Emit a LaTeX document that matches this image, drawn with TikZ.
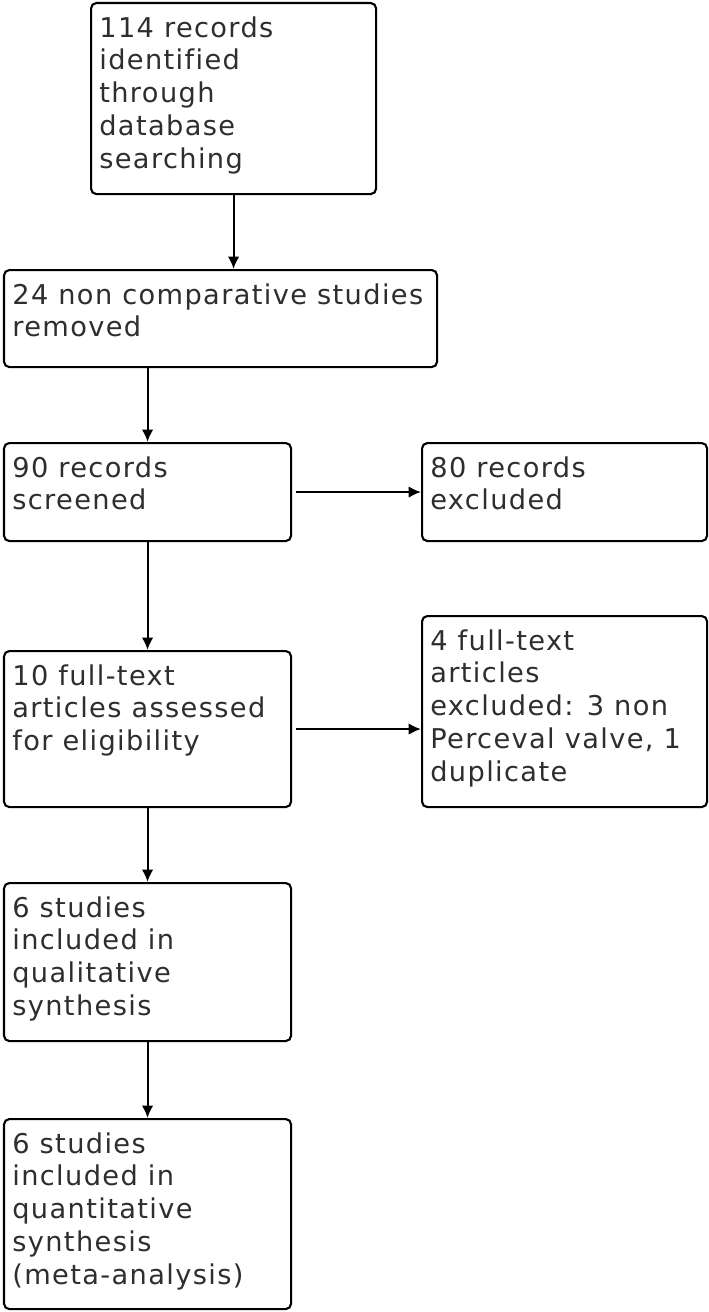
\documentclass[tikz,border=0pt]{standalone}
\usepackage{fontspec}
\setmainfont{DejaVu Sans}
\newfontfamily\flowfont[LetterSpace=5,Ligatures=NoCommon]{DejaVu Sans}
\usetikzlibrary{arrows.meta}

\begin{document}
\begin{tikzpicture}[
box/.style={draw=black, line width=1.2pt, rounded corners=3pt, anchor=north west, inner sep=0pt},
boxtext/.style={anchor=north west, align=left, inner xsep=0.18cm, inner ysep=0.28cm, text=black!82,
  font=\flowfont\fontsize{15.5}{18.7}\selectfont},
flow/.style={draw=black, line width=1.2pt, -{Latex[length=7pt,width=6.5pt]}}]

\useasboundingbox (0,0) rectangle (14.18,-26.24);

% boxes
\node[box, minimum width=5.7cm, minimum height=3.82cm] (Ident) at (1.8,-0.04) {};
\node[box, minimum width=8.66cm, minimum height=1.94cm] (Removed) at (0.06,-5.38) {};
\node[box, minimum width=5.74cm, minimum height=1.96cm] (Screened) at (0.06,-8.84) {};
\node[box, minimum width=5.7cm, minimum height=1.96cm] (Excluded) at (8.42,-8.84) {};
\node[box, minimum width=5.7cm, minimum height=3.82cm] (FullExcl) at (8.42,-12.3) {};
\node[box, minimum width=5.74cm, minimum height=3.12cm] (FullText) at (0.06,-13.0) {};
\node[box, minimum width=5.74cm, minimum height=3.16cm] (Qual) at (0.06,-17.64) {};
\node[box, minimum width=5.74cm, minimum height=3.8cm] (Quant) at (0.06,-22.36) {};

% texts
\node[boxtext] (IdentText) at (Ident.north west) {114 records\\identified\\through\\database\\searching};
\node[boxtext] (RemovedText) at (Removed.north west) {24 non comparative studies\\removed};
\node[boxtext] (ScreenedText) at (Screened.north west) {90 records\\screened};
\node[boxtext] (ExcludedText) at (Excluded.north west) {80 records\\excluded};
\node[boxtext] (FullExclText) at (FullExcl.north west) {4 full-text\\articles\\excluded: 3 non\\Perceval valve, 1\\duplicate};
\node[boxtext] (FullTextText) at (FullText.north west) {10 full-text\\articles assessed\\for eligibility};
\node[boxtext] (QualText) at (Qual.north west) {6 studies\\included in\\qualitative\\synthesis};
\node[boxtext] (QuantText) at (Quant.north west) {6 studies\\included in\\quantitative\\synthesis\\(meta-analysis)};

% arrows
\draw[flow] (Ident.south) -- (Ident.south |- Removed.north);
\draw[flow] (Removed.south -| Screened.north) -- (Screened.north);
\draw[flow, shorten <=2pt] (Screened.east) -- (Screened.east -| Excluded.west);
\draw[flow] (Screened.south) -- (FullText.north);
\draw[flow, shorten <=2pt] (FullText.east) -- (FullText.east -| FullExcl.west);
\draw[flow] (FullText.south) -- (Qual.north);
\draw[flow] (Qual.south) -- (Quant.north);

\end{tikzpicture}
\end{document}
